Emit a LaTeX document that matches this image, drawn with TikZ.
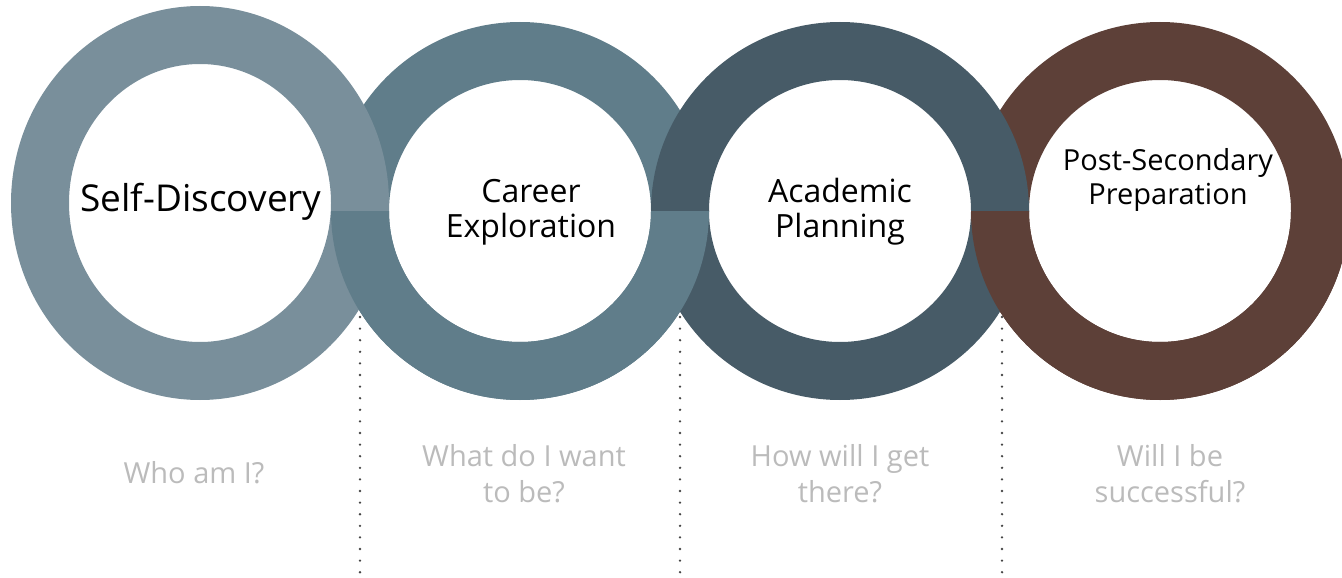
\documentclass[tikz,border=0pt]{standalone}
\usepackage{fontspec}
\setmainfont{Open Sans}
\definecolor{ringA}{HTML}{798F9B}
\definecolor{ringB}{HTML}{607D8A}
\definecolor{ringC}{HTML}{475B67}
\definecolor{ringD}{HTML}{5D4038}
\definecolor{qgray}{HTML}{BBBBBB}
\definecolor{dotgray}{HTML}{444444}
\begin{document}
\begin{tikzpicture}[x=1pt,y=-1pt,
  title/.style={font=\fontsize{32}{35}\selectfont, align=center, text=black, inner sep=0pt},
  question/.style={font=\fontsize{29}{36}\selectfont, align=center, text=qgray, inner sep=0pt},
  divider/.style={dotgray, line width=2.6pt, line cap=round, dash pattern=on 0pt off 11.6pt},
  band/.style={even odd rule}]
\useasboundingbox (0,0) rectangle (1342,578);
% full rings, lower layer first
\fill[ringB, band] (520,211) circle[radius=189] (520,211) circle[radius=131];
\fill[ringD, band] (1160,211) circle[radius=189] (1160,211) circle[radius=131];
\fill[ringA, band] (200,203) ellipse[x radius=189, y radius=197] (200,203) ellipse[x radius=131, y radius=139];
\fill[ringC, band] (840,211) circle[radius=189] (840,211) circle[radius=131];
% lower halves of rings 2 and 4 on top
\fill[ringB] (709,211) arc[start angle=0, end angle=180, radius=189] -- (389,211) arc[start angle=180, end angle=0, radius=131] -- cycle;
\fill[ringD] (1349,211) arc[start angle=0, end angle=180, radius=189] -- (1029,211) arc[start angle=180, end angle=0, radius=131] -- cycle;
% dotted dividers
\coordinate (d1a) at (360,317); \coordinate (d1b) at (360,578);
\coordinate (d2a) at (680,317); \coordinate (d2b) at (680,578);
\coordinate (d3a) at (1002,317); \coordinate (d3b) at (1002,578);
\draw[divider] (d1a) -- (d1b);
\draw[divider] (d2a) -- (d2b);
\draw[divider] (d3a) -- (d3b);
% titles (anchor base = baseline of last line)
\node[title, font=\fontsize{37}{44}\selectfont, anchor=base] (t1) at (201,211) {Self-Discovery};
\node[title, anchor=base] (t2) at (531,237) {Career\\Exploration};
\node[title, anchor=base] (t3) at (840,237) {Academic\\Planning};
\node[title, font=\fontsize{29}{34}\selectfont, anchor=base] (t4) at (1168,204) {Post-Secondary\\Preparation};
% questions
\node[question, anchor=base] (q1) at (194,483) {Who am I?};
\node[question, anchor=base] (q2) at (524,502) {What do I want\\to be?};
\node[question, anchor=base] (q3) at (840,502) {How will I get\\there?};
\node[question, anchor=base] (q4) at (1170,502) {Will I be\\successful?};
\end{tikzpicture}
\end{document}
